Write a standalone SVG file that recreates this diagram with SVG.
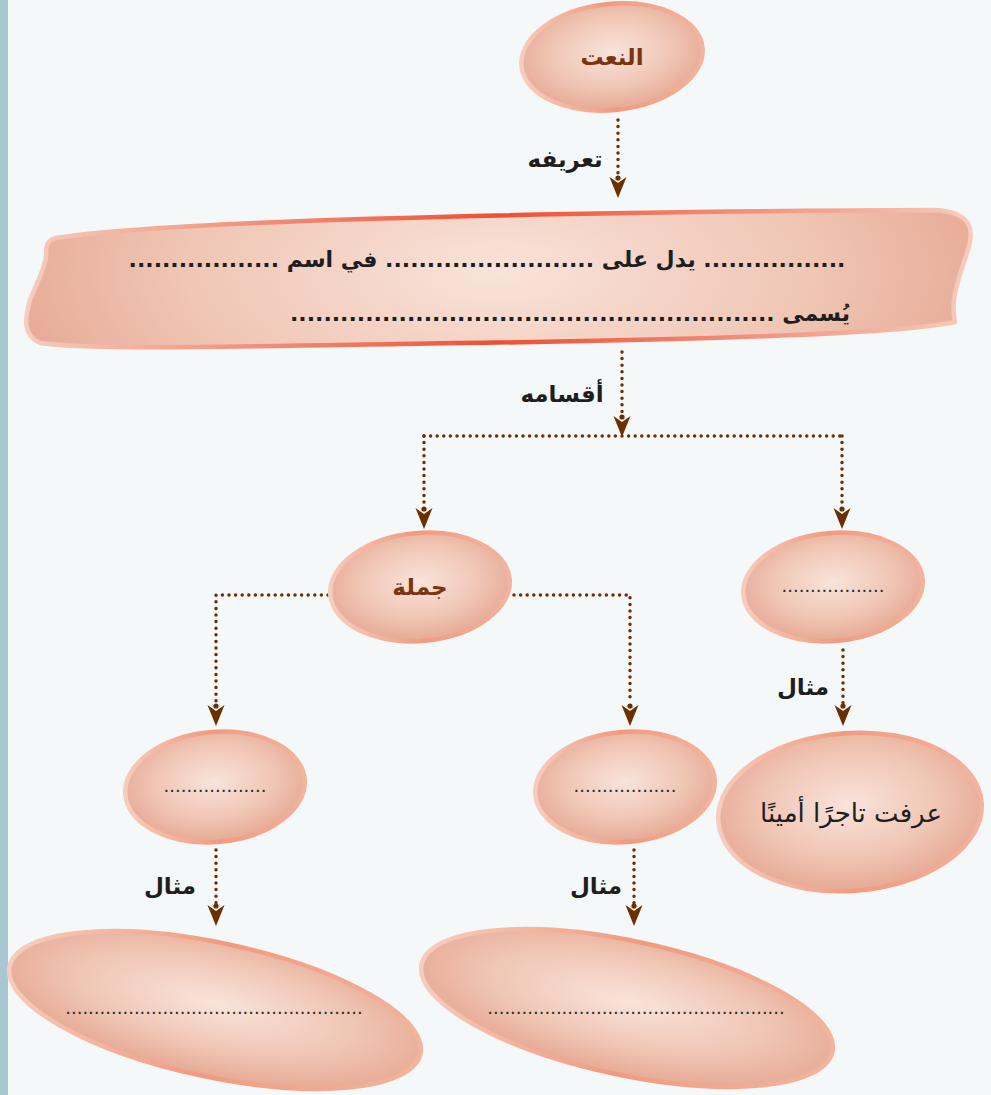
<svg xmlns="http://www.w3.org/2000/svg" width="991" height="1095" viewBox="0 0 991 1095">
<style>
.ar{font-family:"DejaVu Sans",sans-serif;direction:rtl;unicode-bidi:embed;text-anchor:middle}
.ttl{font-size:23px;font-weight:bold;fill:#7a3510}
.lbl{font-size:23px;font-weight:bold;fill:#1e1e1e}
.txt{font-size:22px;font-weight:bold;fill:#1e1e1e}
.dots{font-size:18px;fill:#2a2a2a}
.node{fill:url(#fillG);stroke:url(#strokeG);stroke-width:4.5}
.conn{fill:none;stroke:#6b3000;stroke-width:3.5;stroke-linecap:round;stroke-dasharray:0 6.6}
.tip{stroke:none}
</style>
<defs>
<radialGradient id="fillG" cx="0.5" cy="0.45" r="0.6">
<stop offset="0" stop-color="#f9e3da"/>
<stop offset="0.55" stop-color="#f0c6b5"/>
<stop offset="1" stop-color="#e4a38d"/>
</radialGradient>
<linearGradient id="strokeG" x1="0" y1="0" x2="1" y2="0">
<stop offset="0" stop-color="#f6cdbd"/>
<stop offset="0.5" stop-color="#f29a7e"/>
<stop offset="1" stop-color="#f3b49e"/>
</linearGradient>
<linearGradient id="bannerStroke" gradientUnits="userSpaceOnUse" x1="25" y1="0" x2="975" y2="0">
<stop offset="0" stop-color="#f6cdbd"/>
<stop offset="0.5" stop-color="#ee4f33"/>
<stop offset="1" stop-color="#f6cdbd"/>
</linearGradient>
<radialGradient id="bannerFill" cx="0.5" cy="0.45" r="0.55" gradientTransform="translate(0.5 0.45) scale(1 3) translate(-0.5 -0.45)">
<stop offset="0" stop-color="#f9e3da"/>
<stop offset="0.6" stop-color="#f0c6b5"/>
<stop offset="1" stop-color="#e6a792"/>
</radialGradient>
<marker id="arr" markerUnits="userSpaceOnUse" markerWidth="26" markerHeight="22" viewBox="-3 -10 26 20" refX="21" refY="0" orient="auto">
<path d="M0,-8.5 L21,0 L0,8.5 L6,0 Z" fill="#6b3000"/>
<circle cx="1" cy="0" r="2.6" fill="#6b3000"/>
</marker>
</defs>
<rect width="991" height="1095" fill="#f4f8f9"/>
<rect width="8" height="1095" fill="#a9c6d3"/>

<g id="connectors">
<path class="conn" d="M618,120 V176"/>
<line class="tip" x1="618" y1="178" x2="618" y2="198" marker-end="url(#arr)"/>
<path class="conn" d="M622,352 V414"/>
<line class="tip" x1="622" y1="416" x2="622" y2="437" marker-end="url(#arr)"/>
<path class="conn" d="M424,436 H842"/>
<path class="conn" d="M424,436 V506"/>
<line class="tip" x1="424" y1="508" x2="424" y2="529" marker-end="url(#arr)"/>
<path class="conn" d="M842,436 V506"/>
<line class="tip" x1="842" y1="508" x2="842" y2="529" marker-end="url(#arr)"/>
<path class="conn" d="M328,595 H216 V703"/>
<line class="tip" x1="216" y1="705" x2="216" y2="726" marker-end="url(#arr)"/>
<path class="conn" d="M514,595 H630 V703"/>
<line class="tip" x1="630" y1="705" x2="630" y2="726" marker-end="url(#arr)"/>
<path class="conn" d="M843,650 V703"/>
<line class="tip" x1="843" y1="705" x2="843" y2="726" marker-end="url(#arr)"/>
<path class="conn" d="M216,850 V903"/>
<line class="tip" x1="216" y1="905" x2="216" y2="926" marker-end="url(#arr)"/>
<path class="conn" d="M634,850 V903"/>
<line class="tip" x1="634" y1="905" x2="634" y2="926" marker-end="url(#arr)"/>
<text class="ar lbl" x="565" y="167">تعريفه</text>
<text class="ar lbl" x="562" y="402">أقسامه</text>
<text class="ar lbl" x="803" y="695">مثال</text>
<text class="ar lbl" x="170" y="894">مثال</text>
<text class="ar lbl" x="596" y="894">مثال</text>
</g>

<g id="n-naat">
<ellipse class="node" cx="612" cy="57" rx="91" ry="53" transform="rotate(-6 612 57)"/>
<text class="ar ttl" x="612" y="65">النعت</text>
</g>

<g id="n-definition">
<path d="M55,238 C160,222 500,212 935,210 C970,212 975,228 968,250 C958,280 950,300 955,322 C900,334 700,340 400,344 C220,347 90,350 40,343 C22,335 25,318 30,300 C38,280 48,262 46,250 C47,242 50,240 55,238 Z" fill="url(#bannerFill)" stroke="url(#bannerStroke)" stroke-width="4.5" stroke-linejoin="round"/>
<text class="ar txt" x="487" y="267">................. يدل على ......................... في اسم ..................</text>
<text class="ar txt" x="570" y="321">يُسمى ..........................................................</text>
</g>

<g id="n-jumla">
<ellipse class="node" cx="420" cy="587" rx="90" ry="54" transform="rotate(-5 420 587)"/>
<text class="ar ttl" x="420" y="595">جملة</text>
</g>

<g id="n-mufrad">
<ellipse class="node" cx="833" cy="587" rx="90" ry="54" transform="rotate(-5 833 587)"/>
<text class="ar dots" x="833" y="592">..................</text>
</g>

<g id="n-left">
<ellipse class="node" cx="215" cy="787" rx="90" ry="55" transform="rotate(-5 215 787)"/>
<text class="ar dots" x="215" y="792">..................</text>
</g>

<g id="n-mid">
<ellipse class="node" cx="625" cy="787" rx="90" ry="55" transform="rotate(-5 625 787)"/>
<text class="ar dots" x="625" y="792">..................</text>
</g>

<g id="n-example">
<ellipse class="node" cx="850" cy="812" rx="132" ry="79" transform="rotate(-4 850 812)"/>
<text class="ar txt" x="851" y="822" style="font-weight:normal;font-size:26px">عرفت تاجرًا أمينًا</text>
</g>

<g id="n-ex-left">
<ellipse class="node" cx="215" cy="1010" rx="210" ry="67" transform="rotate(12 215 1010)"/>
<text class="ar dots" x="214" y="1014">....................................................</text>
</g>

<g id="n-ex-mid">
<ellipse class="node" cx="627" cy="1008" rx="210" ry="67" transform="rotate(12 627 1008)"/>
<text class="ar dots" x="636" y="1014">....................................................</text>
</g>
</svg>
